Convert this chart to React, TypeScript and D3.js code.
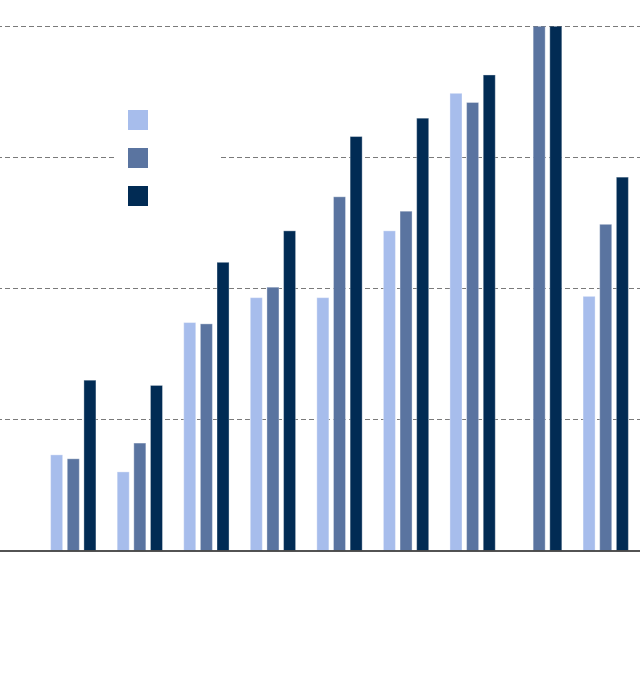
import React from "react";
import * as d3 from "d3";

const categories = ["G1", "G2", "G3", "G4", "G5", "G6", "G7", "G8", "G9"];
const seriesNames = ["A", "B", "C"];
const seriesA: (number | null)[] = [3.65, 3.0, 8.7, 9.65, 9.65, 12.2, 17.45, null, 9.7];
const seriesB: (number | null)[] = [3.5, 4.1, 8.65, 10.05, 13.5, 12.95, 17.1, 20.5, 12.45];
const seriesC: (number | null)[] = [6.5, 6.3, 11.0, 12.2, 15.8, 16.5, 18.15, 20.5, 14.25];
const gridTicks = [5, 10, 15, 20];
const colors = ["#a7bdec", "#5a74a0", "#012b54"];

const W = 640;
const H = 684;

export default function App() {
  const series = [seriesA, seriesB, seriesC];
  const x0 = d3.scaleBand<string>().domain(categories).range([40, 639]).paddingInner(0.25).paddingOuter(0.125);
  const x1 = d3
    .scaleBand<string>()
    .domain(seriesNames)
    .range([0, x0.bandwidth()])
    .paddingInner(0.277)
    .paddingOuter(0.1385);
  const y = d3.scaleLinear().domain([0, 20]).range([550.5, 26.5]);
  const top = y(20);

  return (
    <svg
      width={W}
      height={H}
      style={{ position: "absolute", left: 0, top: 0, background: "#fff" }}
    >
      <defs>
        <clipPath id="plot">
          <rect x={0} y={top} width={W} height={y(0) - top} />
        </clipPath>
      </defs>
      {gridTicks.map((t) => (
        <line
          key={t}
          x1={0}
          x2={W}
          y1={y(t)}
          y2={y(t)}
          stroke="#7a7a7a"
          strokeWidth={1}
          strokeDasharray="5,3"
          strokeDashoffset={3}
        />
      ))}
      <g clipPath="url(#plot)">
        {categories.map((c, i) => (
          <g key={c} transform={`translate(${x0(c)},0)`}>
            {series.map((s, j) => {
              const v = s[i];
              if (v == null) return null;
              return (
                <rect
                  key={j}
                  x={x1(seriesNames[j])}
                  y={y(v)}
                  width={x1.bandwidth()}
                  height={y(0) - y(v)}
                  fill={colors[j]}
                  stroke="rgba(255,255,255,0.35)"
                  strokeWidth={1}
                />
              );
            })}
          </g>
        ))}
      </g>
      <line x1={0} x2={W} y1={551} y2={551} stroke="#1a1a1a" strokeWidth={1.5} />
      <g>
        <rect x={115} y={95} width={106} height={125} fill="#fff" />
        {seriesNames.map((n, j) => (
          <rect key={n} x={128} y={110 + j * 38} width={20} height={20} fill={colors[j]} />
        ))}
      </g>
    </svg>
  );
}
